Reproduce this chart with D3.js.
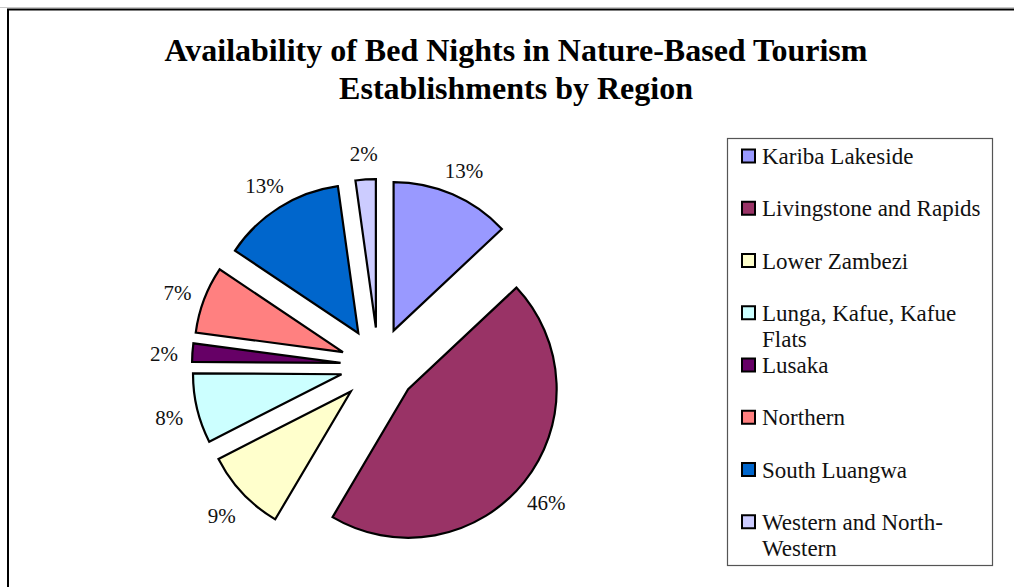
<html lang="en">
<head>
  <script src="https://d3js.org/d3.v7.min.js"></script>
  <style>
    body { margin: 0; background: white; }
    text { font-family: "Liberation Serif", "Times New Roman", serif; }
  </style>
</head>
<body>
  <svg id="chart" width="1014" height="587"></svg>
  <script>
    const regions = ["Kariba Lakeside", "Livingstone and Rapids", "Lower Zambezi",
                     "Lunga, Kafue, Kafue Flats", "Lusaka", "Northern",
                     "South Luangwa", "Western and North-Western"];
    // shares (%); labels round them
    const shares = [13.0, 45.5, 9.0, 7.6, 2.0, 7.3, 13.4, 2.2];
    const colors = ["#9999FF", "#993366", "#FFFFCC", "#CCFFFF",
                    "#660066", "#FF8080", "#0066CC", "#CCCCFF"];
    // legend lines (wrapped like the original)
    const legendLines = [["Kariba Lakeside"], ["Livingstone and Rapids"], ["Lower Zambezi"],
                         ["Lunga, Kafue, Kafue", "Flats"], ["Lusaka"], ["Northern"],
                         ["South Luangwa"], ["Western and North-", "Western"]];

    const svg = d3.select("#chart");

    // page edge + chart frame
    svg.append("line").attr("x1", 0).attr("x2", 1014).attr("y1", 7.5).attr("y2", 7.5)
       .attr("stroke", "#c8c8c8").attr("stroke-width", 1);
    svg.append("rect").attr("x", 8).attr("y", 9.5).attr("width", 1030).attr("height", 620)
       .attr("fill", "white").attr("stroke", "black").attr("stroke-width", 2);

    // title
    const title = svg.append("text").attr("text-anchor", "middle")
       .attr("font-size", 32).attr("font-weight", "bold");
    title.append("tspan").attr("x", 516).attr("y", 61).text("Availability of Bed Nights in Nature-Based Tourism");
    title.append("tspan").attr("x", 516).attr("y", 99).text("Establishments by Region");

    // pie
    const cx = 378.5, cy = 365.5, radius = 148.5, explode = 38, labelR = 215;
    const pie = d3.pie().sort(null).value(d => d);
    const arc = d3.arc().innerRadius(0).outerRadius(radius);
    const arcs = pie(shares);
    const g = svg.append("g").attr("transform", "translate(" + cx + "," + cy + ")");
    const mid = d => (d.startAngle + d.endAngle) / 2;

    g.selectAll("path")
      .data(arcs)
      .enter()
      .append("path")
      .attr("d", arc)
      .attr("fill", (d, i) => colors[i])
      .attr("stroke", "black")
      .attr("stroke-width", 2.2)
      .attr("stroke-linejoin", "miter")
      .attr("transform", d => "translate(" + (Math.sin(mid(d)) * explode) + "," + (-Math.cos(mid(d)) * explode) + ")");

    g.selectAll("text.lbl")
      .data(arcs)
      .enter()
      .append("text")
      .attr("class", "lbl")
      .attr("x", d => Math.sin(mid(d)) * labelR)
      .attr("y", d => -Math.cos(mid(d)) * labelR)
      .attr("text-anchor", "middle")
      .attr("dy", "0.48em")
      .attr("font-size", 21)
      .attr("fill", "#111")
      .text(d => Math.round(d.value) + "%");

    // legend
    svg.append("rect").attr("x", 727.5).attr("y", 138.5).attr("width", 265).attr("height", 427)
       .attr("fill", "white").attr("stroke", "#555").attr("stroke-width", 1.2);

    const legendY = d3.scaleBand().domain(regions).range([130, 548]);
    const items = svg.selectAll("g.leg")
      .data(regions)
      .enter()
      .append("g")
      .attr("class", "leg")
      .attr("transform", d => "translate(742," + (legendY(d) + 26) + ")");

    items.append("rect")
      .attr("x", 0).attr("y", -6.5).attr("width", 13).attr("height", 13)
      .attr("fill", (d, i) => colors[i])
      .attr("stroke", "black").attr("stroke-width", 2);

    items.each(function(d, i) {
      const t = d3.select(this).append("text").attr("font-size", 23).attr("fill", "#111");
      legendLines[i].forEach((line, j) => {
        t.append("tspan").attr("x", 20).attr("y", j * 26.5).attr("dy", "0.35em").text(line);
      });
    });
  </script>
</body>
</html>
